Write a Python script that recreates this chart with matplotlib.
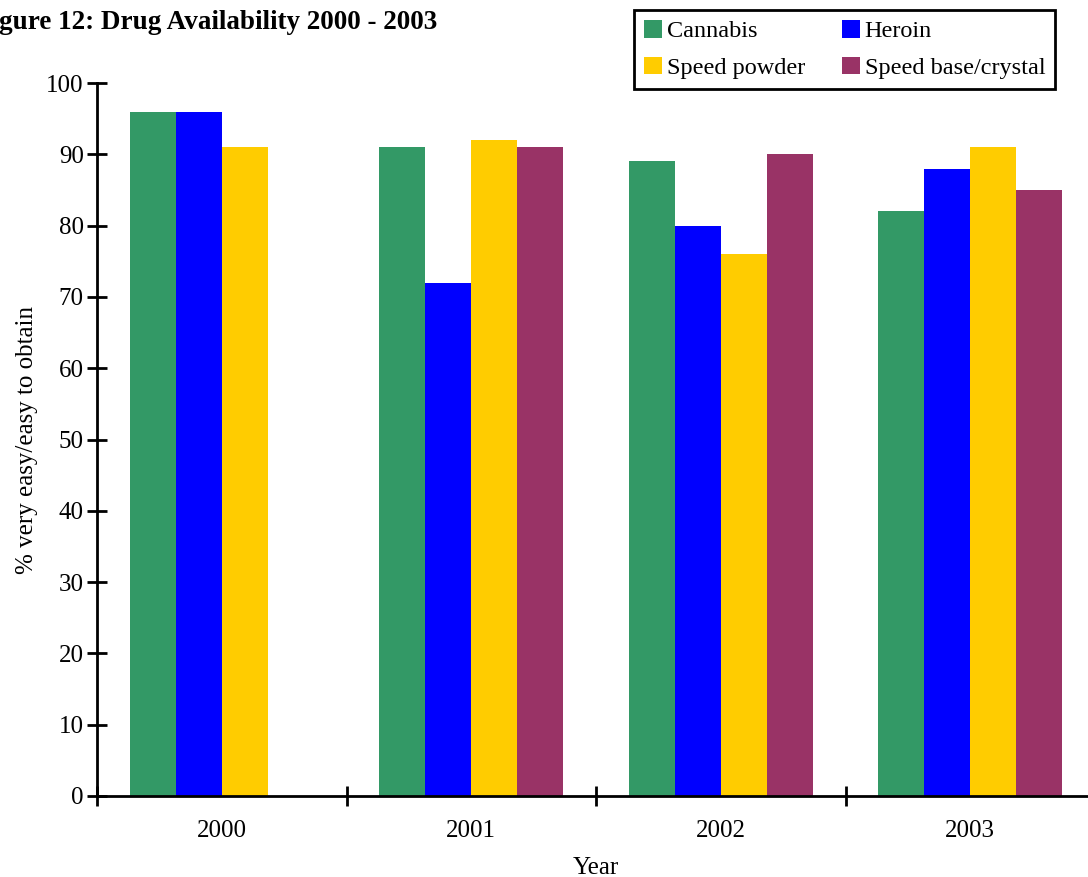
import numpy as np
import matplotlib
matplotlib.use("Agg")
import matplotlib.pyplot as pl

pl.rcParams["font.family"] = ["Liberation Serif", "DejaVu Serif"]

years = ["2000", "2001", "2002", "2003"]
drugs = ["Cannabis", "Heroin", "Speed powder", "Speed base/crystal"]
colors = ["#339966", "#0000ff", "#ffcc00", "#993366"]

# % reporting very easy/easy to obtain; no speed base figure for 2000
cannabis = [96, 91, 89, 82]
heroin = [96, 72, 80, 88]
speed_powder = [91, 92, 76, 91]
speed_base = [np.nan, 91, 90, 85]

W, H = 1088, 877
fig = pl.figure(figsize=(W / 100.0, H / 100.0), dpi=100)
ax = fig.add_axes([97.0 / W, 81.0 / H, 998.0 / W, 713.0 / H])

x = np.arange(len(years))
width = 0.184
series = [cannabis, heroin, speed_powder, speed_base]
bars = []
for i, (vals, name, c) in enumerate(zip(series, drugs, colors)):
    b = ax.bar(x + (i - 1.5) * width, vals, width, color=c, label=name,
               linewidth=0)
    bars.append(b)

ax.set_xlim(-0.5, 3.5)
ax.set_ylim(0, 100)
ax.set_yticks(np.arange(0, 101, 10))
ax.set_xticks(np.arange(-0.5, 4.0, 1.0))
ax.set_xticklabels([])
ax.set_xticks(x, minor=True)
ax.set_xticklabels(years, minor=True)
ax.tick_params(axis="x", which="major", direction="inout", length=15,
               width=2)
ax.tick_params(axis="x", which="minor", length=0, pad=17, labelsize=18)
ax.tick_params(axis="y", direction="inout", length=15, width=2,
               labelsize=18, pad=2)

for side in ["top", "right"]:
    ax.spines[side].set_visible(False)
for side in ["left", "bottom"]:
    ax.spines[side].set_linewidth(2)

ax.set_xlabel("Year", fontsize=18, labelpad=11)
ax.set_ylabel("% very easy/easy to obtain", fontsize=18, labelpad=6)

fig.text(437.0 / W, 1 - 29.0 / H, "Figure 12: Drug Availability 2000 - 2003",
         ha="right", va="baseline", fontsize=19.5, fontweight="bold")

# two columns, filled row by row
order = [0, 2, 1, 3]
leg = ax.legend([bars[i] for i in order], [drugs[i] for i in order],
                loc="upper right", bbox_to_anchor=(1055.0 / W, 1 - 10.0 / H),
                bbox_transform=fig.transFigure, ncol=2, fontsize=17.5,
                fancybox=False, framealpha=1, borderpad=0.4,
                handlelength=0.75, handleheight=0.75, handletextpad=0.2,
                columnspacing=1.5, labelspacing=0.6, borderaxespad=0)
leg.get_frame().set_edgecolor("black")
leg.get_frame().set_linewidth(2)

fig.savefig("out.png", dpi=100)
